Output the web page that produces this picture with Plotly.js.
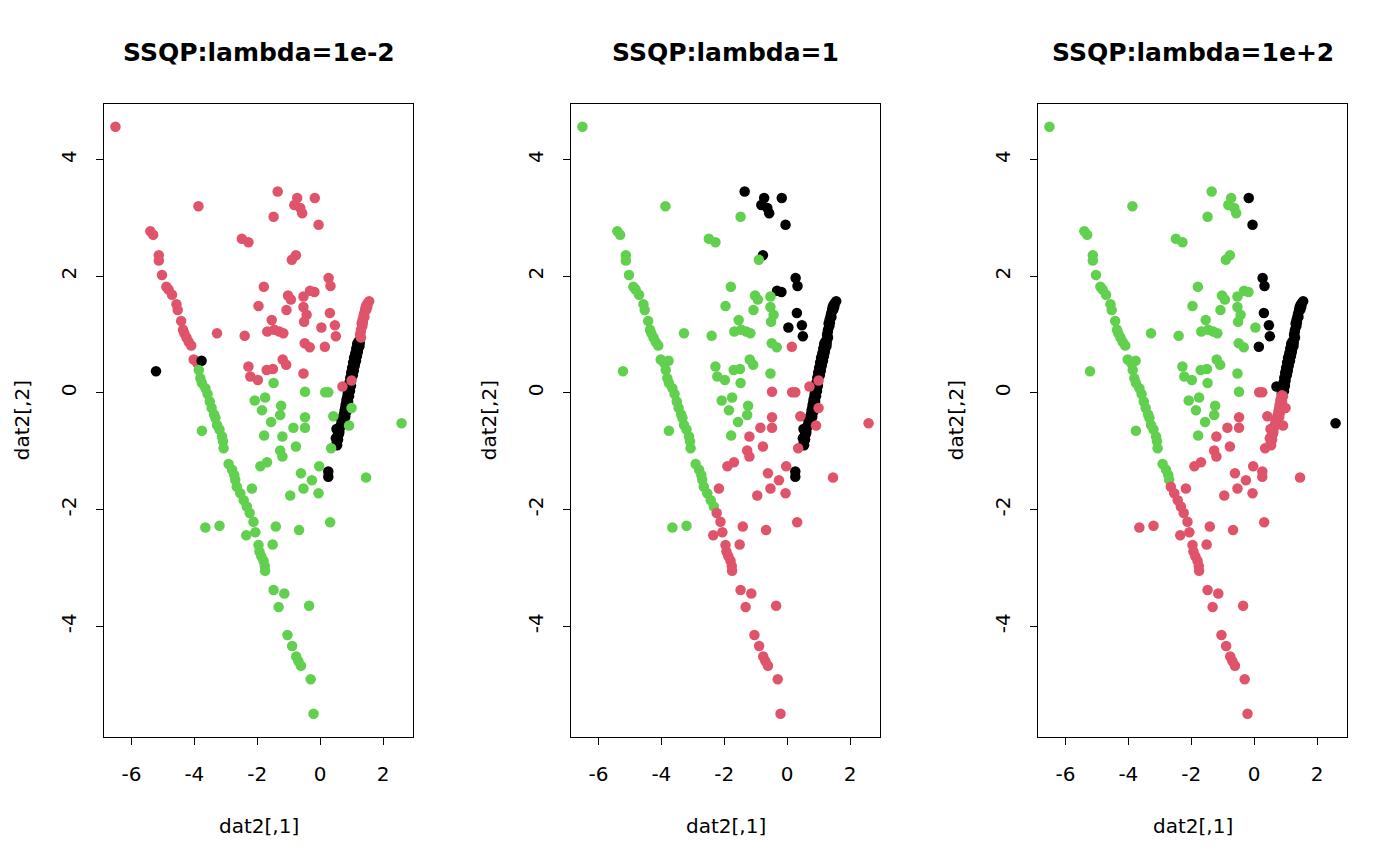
<!DOCTYPE html>
<html>
<head>
<meta charset="utf-8">
<script src="https://cdn.plot.ly/plotly-3.0.1.min.js"></script>
<style>html,body{margin:0;padding:0;background:#fff;}#plot{width:1400px;height:866px;}</style>
</head>
<body>
<div id="plot"></div>
<script>
// dat2[,1] values (point order: diagonal, upper arm, isolated, upper scatter, lower scatter, lower arm/tail)
const dat2x = [
  1.22,1.18,1.25,1.15,1.20,1.12,1.17,1.08,1.14,1.05,1.10,1.02,1.07,0.99,1.04,0.96,0.93,0.98,0.90,0.95,0.88,
  1.26,1.22,1.19,1.15,1.12,1.08,1.05,1.01,0.98,0.95,0.92,
  0.92,0.85,0.89,0.82,0.86,0.79,0.83,0.76,0.80,0.73,0.70,0.66,0.62,0.58,0.60,0.55,0.57,0.53,0.54,
  0.88,0.84,0.81,0.78,0.74,0.68,0.64,0.61,0.57,0.50,0.52,
  0.26,0.26,
  1.27,1.29,1.30,1.34,1.32,1.35,1.38,1.40,1.43,1.45,1.48,1.52,1.56,
  1.30,1.36,1.41,1.47,1.50,
  -6.51,-3.87,-5.40,-5.31,-5.13,-5.13,-5.03,-4.89,-4.82,-4.71,-4.57,-4.53,-4.42,-4.36,-4.32,-4.25,-4.18,-4.10,-4.02,-3.91,
  -3.77,-5.22,
  -1.35,-0.73,-0.17,-0.82,-0.63,-0.57,-1.48,-0.05,-2.49,-2.28,-0.77,-0.90,0.27,0.33,-1.79,-1.02,-0.93,-0.32,-0.18,-0.53,
  -1.96,-1.07,-0.53,-0.43,-0.51,0.31,-1.54,0.04,0.47,0.50,-1.68,-1.46,-1.30,-1.17,-0.49,-0.33,0.15,-1.19,-1.08,-1.70,
  -1.50,-0.53,-1.98,-3.28,-2.40,-2.28,-2.22,1.00,0.71,
  -1.48,-0.48,0.16,0.26,-2.08,-1.75,-1.85,-1.24,-1.27,-0.48,0.42,1.00,2.59,-1.56,-0.48,-0.85,-1.78,-1.20,-0.77,-1.27,
  -1.20,-1.90,-1.69,0.92,0.35,-0.03,-0.61,-0.26,-0.53,-0.95,-0.05,1.46,-2.17,-3.76,
  -3.86,-3.81,-3.76,-3.65,-3.58,-3.51,-3.45,-3.37,-3.33,-3.28,-3.20,-3.12,-3.09,-3.07,-2.91,-2.80,-2.73,-2.70,
  -2.65,-2.54,-2.43,-2.33,
  -3.65,-3.20,
  -2.24,-2.12,-2.35,-2.06,-1.96,-1.93,-1.87,-1.80,-1.76,-1.75,-1.41,-0.67,0.32,-1.51,-1.48,-1.14,-1.32,-0.35,-1.04,-0.89,
  -0.76,-0.69,-0.61,-0.30,-0.21
];
// dat2[,2] values
const dat2y = [
  0.88,0.84,0.80,0.76,0.72,0.68,0.63,0.60,0.55,0.52,0.47,0.43,0.38,0.35,0.30,0.26,0.17,0.12,0.08,0.03,-0.01,
  0.86,0.78,0.69,0.62,0.56,0.49,0.40,0.32,0.24,0.15,0.05,
  -0.06,-0.10,-0.15,-0.19,-0.24,-0.28,-0.33,-0.37,-0.41,-0.45,-0.50,-0.55,-0.60,-0.64,-0.70,-0.75,-0.80,-0.85,-0.90,
  -0.04,-0.13,-0.22,-0.31,-0.40,-0.47,-0.58,-0.67,-0.72,-0.78,-0.62,
  -1.35,-1.44,
  0.99,1.04,1.08,1.14,1.19,1.25,1.31,1.36,1.42,1.47,1.51,1.54,1.57,
  0.95,1.20,1.30,1.43,1.48,
  4.56,3.20,2.77,2.71,2.36,2.27,2.02,1.82,1.77,1.68,1.52,1.42,1.23,1.08,1.02,0.95,0.87,0.81,0.57,0.51,
  0.55,0.37,
  3.45,3.34,3.34,3.22,3.17,3.08,3.02,2.88,2.64,2.58,2.36,2.28,1.97,1.83,1.82,1.67,1.60,1.75,1.73,1.65,
  1.49,1.42,1.47,1.34,1.22,1.37,1.25,1.12,1.16,0.97,1.05,1.08,1.05,1.02,0.85,0.78,0.79,0.57,0.48,0.39,
  0.41,0.33,0.22,1.02,0.98,0.45,0.28,0.21,0.11,
  0.17,0.02,0.01,0.01,-0.13,-0.08,-0.30,-0.22,-0.38,-0.42,-0.40,-0.26,-0.52,-0.50,-0.60,-0.60,-0.73,-0.75,-0.92,-0.99,
  -1.09,-1.26,-1.19,-0.56,-0.95,-1.26,-1.38,-1.50,-1.64,-1.76,-1.72,-1.45,-1.64,-0.65,
  0.39,0.25,0.17,0.08,-0.02,-0.15,-0.26,-0.37,-0.43,-0.55,-0.63,-0.75,-0.83,-0.95,-1.22,-1.32,-1.41,-1.49,
  -1.61,-1.72,-1.84,-1.95,
  -2.31,-2.28,
  -2.06,-2.21,-2.44,-2.39,-2.61,-2.72,-2.80,-2.88,-2.97,-3.05,-2.29,-2.35,-2.22,-2.60,-3.38,-3.44,-3.67,-3.65,-4.15,-4.34,
  -4.52,-4.60,-4.68,-4.91,-5.50
];
// cluster labels (1 = black, 2 = red, 3 = green) for each panel
const clusterL1 = [
  1,1,1,1,1,1,1,1,1,1,1,1,1,1,1,1,1,1,1,1,1,
  1,1,1,1,1,1,1,1,1,1,1,
  1,1,1,1,1,1,1,1,1,1,1,1,1,1,1,1,1,1,1,
  1,1,1,1,1,1,1,1,1,1,1,
  1,1,
  2,2,2,2,2,2,2,2,2,2,2,2,2,
  2,2,2,2,2,
  2,2,2,2,2,2,2,2,2,2,2,2,2,2,2,2,2,2,2,2,
  1,1,
  2,2,2,2,2,2,2,2,2,2,2,2,2,2,2,2,2,2,2,2,
  2,2,2,2,2,2,2,2,2,2,2,2,2,2,2,2,2,2,2,2,
  2,2,2,2,2,2,2,2,2,
  3,3,3,3,3,3,3,3,3,3,3,3,3,3,3,3,3,3,3,3,
  3,3,3,3,3,3,3,3,3,3,3,3,3,3,
  3,3,3,3,3,3,3,3,3,3,3,3,3,3,3,3,3,3,
  3,3,3,3,
  3,3,
  3,3,3,3,3,3,3,3,3,3,3,3,3,3,3,3,3,3,3,3,
  3,3,3,3,3
];
const clusterL2 = [
  1,1,1,1,1,1,1,1,1,1,1,1,1,1,1,1,1,1,1,1,1,
  1,1,1,1,1,1,1,1,1,1,1,
  1,1,1,1,1,1,1,1,1,1,1,1,1,1,1,1,1,1,1,
  1,1,1,1,1,1,1,1,1,1,1,
  1,1,
  1,1,1,1,1,1,1,1,1,1,1,1,1,
  1,1,1,1,1,
  3,3,3,3,3,3,3,3,3,3,3,3,3,3,3,3,3,3,3,3,
  3,3,
  1,1,1,1,1,1,3,1,3,3,1,3,1,1,3,3,3,1,1,3,
  3,3,3,3,3,1,3,1,1,1,3,3,3,3,3,3,2,3,3,3,
  3,3,3,3,3,3,3,2,2,
  3,2,2,2,3,3,3,3,3,2,2,2,2,3,2,2,3,2,2,2,
  2,2,2,2,2,2,2,2,2,2,2,2,2,3,
  3,3,3,3,3,3,3,3,3,3,3,3,3,3,3,3,3,3,
  3,3,3,3,
  3,3,
  2,2,2,2,2,2,2,2,2,2,2,2,2,2,2,2,2,2,2,2,
  2,2,2,2,2
];
const clusterL3 = [
  1,1,1,1,1,1,1,1,1,1,1,1,1,1,1,1,1,1,1,1,1,
  1,1,1,1,1,1,1,1,1,1,1,
  2,2,2,2,2,2,2,2,2,2,2,2,2,2,2,2,2,2,2,
  2,2,2,2,2,2,2,2,2,2,2,
  2,2,
  1,1,1,1,1,1,1,1,1,1,1,1,1,
  1,1,1,1,1,
  3,3,3,3,3,3,3,3,3,3,3,3,3,3,3,3,3,3,3,3,
  3,3,
  3,3,1,3,3,3,3,1,3,3,3,3,1,1,3,3,3,3,3,3,
  3,3,3,3,3,1,3,3,1,1,3,3,3,3,3,3,1,3,3,3,
  3,3,3,3,3,3,3,1,1,
  3,3,2,2,3,3,3,3,3,2,2,2,1,3,2,2,3,2,2,2,
  2,2,2,2,2,2,2,2,2,2,2,2,2,3,
  3,3,3,3,3,3,3,3,3,3,3,3,3,3,3,3,3,3,
  2,2,2,2,
  2,2,
  2,2,2,2,2,2,2,2,2,2,2,2,2,2,2,2,2,2,2,2,
  2,2,2,2,2
];
const panelTitles = ['SSQP:lambda=1e-2', 'SSQP:lambda=1', 'SSQP:lambda=1e+2'];
const xTickVals = [-6, -4, -2, 0, 2];
const xTickText = ['-6', '-4', '-2', '0', '2'];
const yTickVals = [-4, -2, 0, 2, 4];
const yTickText = ['-4', '-2', '0', '2', '4'];
const xLabel = 'dat2[,1]';
const yLabel = 'dat2[,2]';

const palette = {1: '#000000', 2: '#DF536B', 3: '#61D04F'};
const labelSets = [clusterL1, clusterL2, clusterL3];

const W = 1400, H = 866;
const panelLeft = [104, 571, 1038];
const panelWidth = 309;
const plotTop = 103.5, plotBottom = 737;
const FONT = 'DejaVu Sans, sans-serif';

const data = [];
const layout = {
  width: W, height: H,
  margin: {l: 0, r: 0, t: 0, b: 0, autoexpand: false},
  paper_bgcolor: '#ffffff', plot_bgcolor: '#ffffff',
  showlegend: false,
  font: {family: FONT, size: 20, color: '#000000'},
  annotations: []
};

labelSets.forEach((labs, i) => {
  const sfx = i === 0 ? '' : String(i + 1);
  data.push({
    type: 'scatter', mode: 'markers',
    x: dat2x, y: dat2y,
    xaxis: 'x' + sfx, yaxis: 'y' + sfx,
    marker: {size: 10.5, color: labs.map(c => palette[c]), line: {width: 0}},
    hoverinfo: 'skip'
  });
  const x0 = panelLeft[i] / W, x1 = (panelLeft[i] + panelWidth) / W;
  const common = {
    showline: true, mirror: true, linecolor: '#000', linewidth: 1,
    ticks: 'outside', ticklen: 7, tickwidth: 1, tickcolor: '#000',
    showgrid: false, zeroline: false, fixedrange: true,
    tickfont: {family: FONT, size: 20, color: '#000'}
  };
  layout['xaxis' + sfx] = Object.assign({}, common, {
    domain: [x0, x1], anchor: 'y' + sfx,
    range: [-6.874, 2.954],
    tickmode: 'array', tickvals: xTickVals, ticktext: xTickText,
    ticklabelstandoff: 12
  });
  layout['yaxis' + sfx] = Object.assign({}, common, {
    domain: [1 - plotBottom / H, 1 - plotTop / H], anchor: 'x' + sfx,
    range: [-5.90, 4.96],
    tickmode: 'array', tickvals: yTickVals, ticktext: yTickText,
    tickangle: -90, ticklabelstandoff: 12
  });
  const cx = (panelLeft[i] + panelWidth / 2) / W;
  layout.annotations.push({
    text: '<b>' + panelTitles[i] + '</b>', xref: 'paper', yref: 'paper',
    x: cx, y: 1 - 53 / H, xanchor: 'center', yanchor: 'middle', showarrow: false,
    font: {family: FONT, size: 25, color: '#000'}
  });
  layout.annotations.push({
    text: xLabel, xref: 'paper', yref: 'paper',
    x: cx, y: 1 - 826 / H, xanchor: 'center', yanchor: 'middle', showarrow: false,
    font: {family: FONT, size: 20, color: '#000'}
  });
  layout.annotations.push({
    text: yLabel, xref: 'paper', yref: 'paper', textangle: -90,
    x: (panelLeft[i] - 82) / W, y: 1 - ((plotTop + plotBottom) / 2) / H,
    xanchor: 'center', yanchor: 'middle', showarrow: false,
    font: {family: FONT, size: 20, color: '#000'}
  });
});

Plotly.newPlot('plot', data, layout, {displayModeBar: false, staticPlot: true});
</script>
</body>
</html>
